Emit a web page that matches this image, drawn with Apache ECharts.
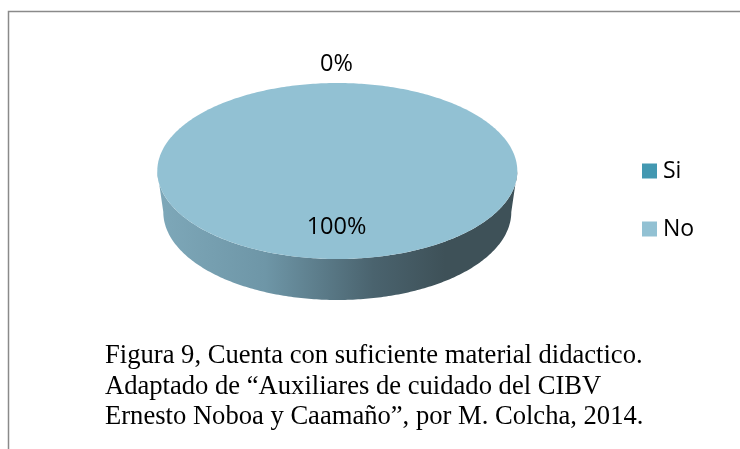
<!DOCTYPE html>
<html>
<head>
<meta charset="utf-8">
<style>html,body{margin:0;padding:0;background:#fff}#c{width:740px;height:449px}</style>
<script src="https://cdn.jsdelivr.net/npm/echarts@6/dist/echarts.min.js"></script>
</head>
<body>
<div id="c"></div>
<script>
var categories = ['Si', 'No'];
var values = [0, 100];
var sliceColors = ['#4398B1', '#92C1D3'];
var captionLines = [
  'Figura 9, Cuenta con suficiente material didactico.',
  'Adaptado de \u201cAuxiliares de cuidado del CIBV',
  'Ernesto Noboa y Caama\u00f1o\u201d, por M. Colcha, 2014.'
];

var total = values.reduce(function (a, b) { return a + b; }, 0);
var TOP = { cx: 337.3, cy: 171, rx: 180, ry: 88 };
var BOTTOM = { cx: 337.3, cy: 212, rx: 174, ry: 88 };

function pt(e, a) { return [e.cx + e.rx * Math.sin(a), e.cy - e.ry * Math.cos(a)]; }
function arc(e, a0, a1) {
  var n = Math.max(2, Math.ceil(Math.abs(a1 - a0) / 0.015)), out = [];
  for (var i = 0; i <= n; i++) out.push(pt(e, a0 + (a1 - a0) * i / n));
  return out;
}
function wedge(idx) {
  return function (params, api) {
    var before = values.slice(0, idx).reduce(function (a, b) { return a + b; }, 0);
    var v = api.value(0);
    var a0 = before / total * 2 * Math.PI, a1 = (before + v) / total * 2 * Math.PI;
    var children = [];
    if (v > 0) {
      var s0 = Math.max(a0, Math.PI / 2), s1 = Math.min(a1, 3 * Math.PI / 2);
      if (s1 > s0) {
        children.push({
          type: 'polygon',
          shape: { points: arc(TOP, s0, s1).concat(arc(BOTTOM, s1, s0)) },
          style: {
            fill: new echarts.graphic.LinearGradient(0, 0, 1, 0, [
              { offset: 0, color: '#7EA8B9' },
              { offset: 0.3, color: '#6E96A7' },
              { offset: 0.6, color: '#4A636E' },
              { offset: 0.8, color: '#3E5158' },
              { offset: 1, color: '#3E5158' }
            ])
          }
        });
      }
      var pts = arc(TOP, a0, a1);
      if (a1 - a0 < 2 * Math.PI - 1e-6) pts.push([TOP.cx, TOP.cy]);
      children.push({ type: 'polygon', shape: { points: pts }, style: { fill: sliceColors[idx] } });
    }
    var mid = (a0 + a1) / 2;
    var k = v > 0 ? 0.635 : 1.21;
    children.push({
      type: 'text',
      z2: 10,
      style: {
        x: TOP.cx + k * TOP.rx * Math.sin(mid) - 0.8,
        y: TOP.cy - k * TOP.ry * Math.cos(mid),
        text: Math.round(v / total * 100) + '%',
        fill: '#000',
        font: '23.5px "Open Sans"',
        align: 'center',
        verticalAlign: 'middle'
      }
    });
    return { type: 'group', children: children };
  };
}

var chart = echarts.init(document.getElementById('c'), null, { renderer: 'canvas' });
chart.setOption({
  animation: false,
  backgroundColor: '#fff',
  legend: {
    data: categories,
    orient: 'vertical',
    left: 642,
    top: 157,
    itemWidth: 15,
    itemHeight: 15,
    itemGap: 30,
    icon: 'rect',
    padding: 0,
    textStyle: { fontFamily: 'Open Sans', fontSize: 23, color: '#000', padding: [0, 0, 0, 1], lineHeight: 28 }
  },
  title: {
    text: captionLines.join('\n'),
    left: 105,
    top: 341,
    padding: 0,
    textStyle: { fontFamily: 'Liberation Serif', fontSize: 26.6, fontWeight: 'normal', color: '#000', lineHeight: 30.5 }
  },
  graphic: [{
    type: 'polyline',
    shape: { points: [[8.5, 449], [8.5, 11.5], [740, 11.5]] },
    style: { stroke: '#8A8A8A', lineWidth: 1.5, fill: null },
    silent: true
  }],
  series: categories.map(function (name, i) {
    return {
      type: 'custom',
      name: name,
      coordinateSystem: 'none',
      itemStyle: { color: sliceColors[i] },
      renderItem: wedge(i),
      data: [[values[i]]]
    };
  })
});
</script>
</body>
</html>
